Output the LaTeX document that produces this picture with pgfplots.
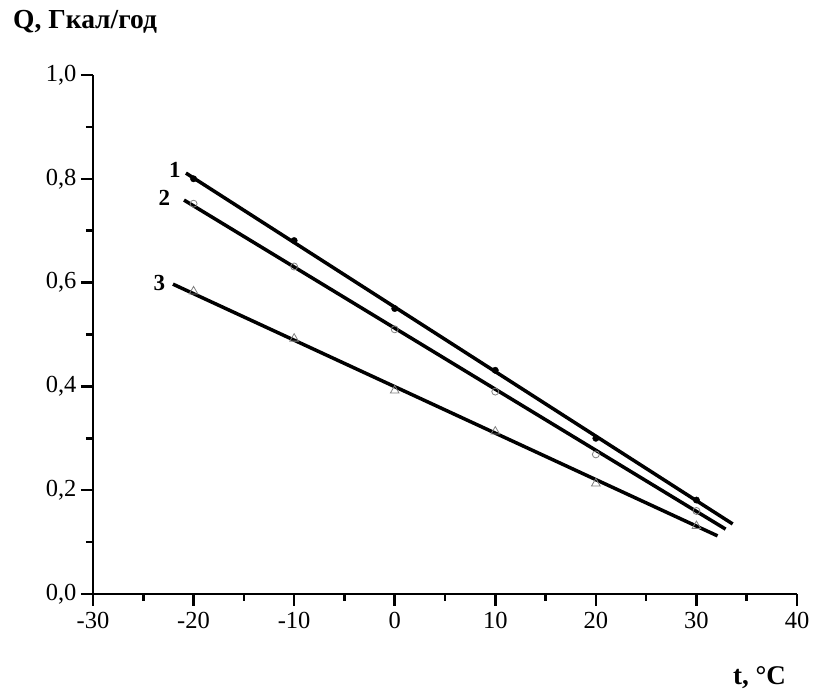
\documentclass[border=0pt]{standalone}
\usepackage{pgfplots}
\pgfplotsset{compat=1.18}
\usepackage{fontspec}
\setmainfont{Liberation Serif}
\begin{document}
\begin{tikzpicture}[x=1pt,y=1pt]
\path[use as bounding box] (0,0) rectangle (813,693);
\begin{axis}[
  at={(93pt,99pt)}, anchor=south west,
  scale only axis, width=704pt, height=519pt,
  xmin=-30, xmax=40, ymin=0, ymax=1,
  axis x line*=bottom, axis y line*=left,
  axis line style={line width=2.5pt},
  xtick={-30,-20,...,40}, ytick={0,0.2,...,1.0},
  minor x tick num=1, minor y tick num=1,
  tick align=outside,
  major tick length=12pt, minor tick length=7pt,
  every tick/.style={line width=2.5pt, black},
  tick label style={font=\fontsize{24.5}{26}\selectfont},
  xticklabel style={yshift=-3pt},
  yticklabel style={xshift=-1pt},
  yticklabel={\pgfmathprintnumber[fixed,fixed zerofill,precision=1,use comma,assume math mode=true]{\tick}},
  xticklabel={\pgfmathprintnumber[assume math mode=true]{\tick}},
  clip=false,
]
% fitted lines
\addplot[black, line width=3.5pt, no marks] coordinates {(-20.76,0.811) (33.6,0.135)};
\addplot[black, line width=3.5pt, no marks] coordinates {(-20.95,0.759) (32.9,0.125)};
\addplot[black, line width=3.5pt, no marks] coordinates {(-22.05,0.597) (32.1,0.112)};
% measured points
\addplot[only marks, mark=*, mark size=3.2pt, black] coordinates {
(-20,0.80) (-10,0.681) (0,0.55) (10,0.431) (20,0.30) (30,0.181)};
\addplot[only marks, mark=o, mark size=3.5pt, gray, line width=0.8pt] coordinates {
(-20,0.752) (-10,0.631) (0,0.51) (10,0.39) (20,0.269) (30,0.16)};
\addplot[only marks, mark=triangle, mark size=5pt, gray, line width=0.8pt] coordinates {
(-20,0.583) (-10,0.492) (0,0.392) (10,0.313) (20,0.213) (30,0.131)};
\node[font=\fontsize{23}{25}\selectfont\bfseries] at (axis cs:-21.85,0.817) {1};
\node[font=\fontsize{23}{25}\selectfont\bfseries] at (axis cs:-22.9,0.763) {2};
\node[font=\fontsize{23}{25}\selectfont\bfseries] at (axis cs:-23.4,0.599) {3};
\end{axis}
\node[anchor=west, font=\fontsize{27.5}{29}\selectfont\bfseries, inner sep=0pt] at (13,671) {Q, Гкал/год};
\node[anchor=east, font=\fontsize{27}{29}\selectfont\bfseries, inner sep=0pt] at (786,15) {t, °C};
\end{tikzpicture}
\end{document}
